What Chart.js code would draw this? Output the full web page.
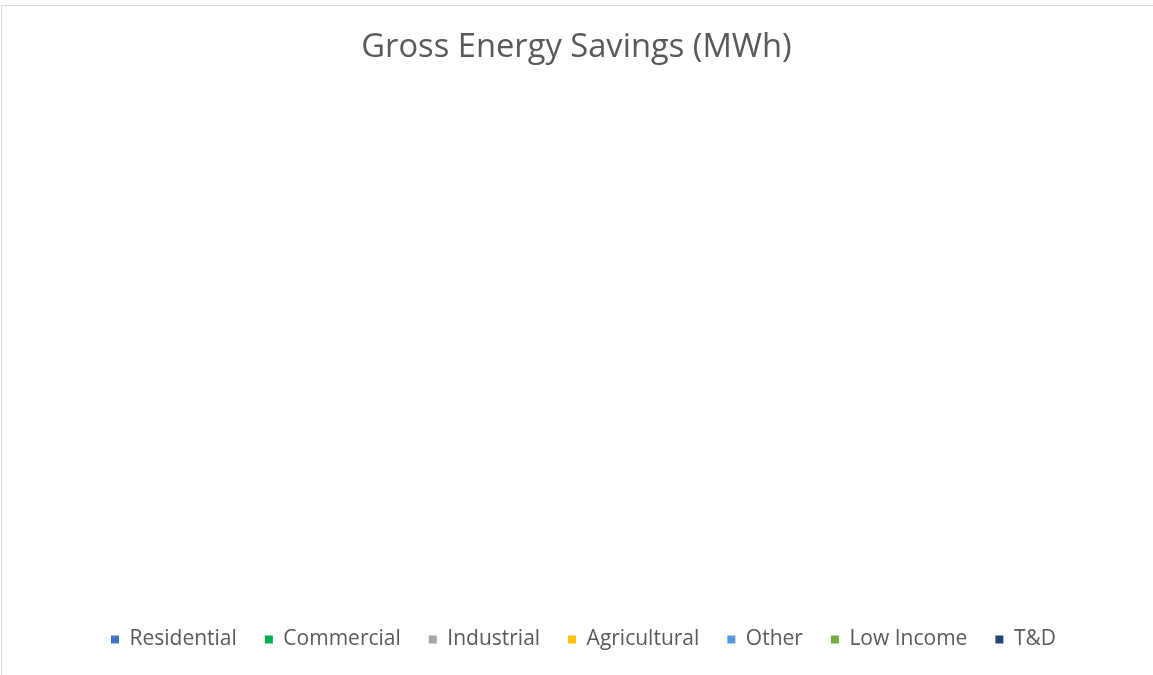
<!DOCTYPE html>
<html>
<head>
<meta charset="utf-8">
<script src="https://cdn.jsdelivr.net/npm/chart.js@4"></script>
<style>
  html, body { margin: 0; padding: 0; background: #fff; }
  #marco {
    position: absolute; left: 1px; top: 5px; width: 1152px; height: 670px;
    border-left: 1px solid #d9d9d9; border-top: 1px solid #d9d9d9;
    box-sizing: border-box;
  }
  #grafico { position: absolute; left: 0; top: 0; }
</style>
</head>
<body>
<div id="marco"></div>
<canvas id="grafico" width="1153" height="675"></canvas>
<script>
// categorias e valores (o gráfico original está vazio: nenhum setor é desenhado)
const categorias = ['Residential', 'Commercial', 'Industrial', 'Agricultural', 'Other', 'Low Income', 'T&D'];
const valores    = [0, 0, 0, 0, 0, 0, 0];
const cores      = ['#4472C4', '#00B050', '#A5A5A5', '#FFC000', '#5B9BD5', '#70AD47', '#264478'];
const titulo     = 'Gross Energy Savings (MWh)';

const FONTE = "'Open Sans', 'Noto Sans', sans-serif";

const ctx = document.getElementById('grafico').getContext('2d');
new Chart(ctx, {
  type: 'pie',
  data: {
    labels: categorias,
    datasets: [{
      data: valores,
      backgroundColor: cores,
      borderColor: '#fff',
      borderWidth: 1,
    }]
  },
  options: {
    responsive: false,
    animation: false,
    layout: { padding: { top: 28, bottom: 15 } },
    plugins: {
      title: {
        display: true,
        text: titulo,
        color: '#595959',
        font: { family: FONTE, size: 32.7, weight: 'normal' },
        padding: { top: 0, bottom: 10 }
      },
      legend: {
        position: 'bottom',
        labels: {
          color: '#595959',
          font: { family: FONTE, size: 21 },
          boxWidth: 8,
          boxHeight: 8,
          padding: 28,
          generateLabels(chart) {
            return categorias.map((c, i) => ({
              text: c,
              fillStyle: cores[i],
              strokeStyle: cores[i],
              lineWidth: 0,
              hidden: false,
              index: i,
              fontColor: '#595959'
            }));
          }
        }
      },
      tooltip: { enabled: false }
    }
  },
  plugins: [{
    // no original a legenda fica um pouco à direita do título
    id: 'deslocaLegenda',
    afterLayout(chart) {
      chart.legend.left  += 7;
      chart.legend.right += 7;
    }
  }]
});
</script>
</body>
</html>
